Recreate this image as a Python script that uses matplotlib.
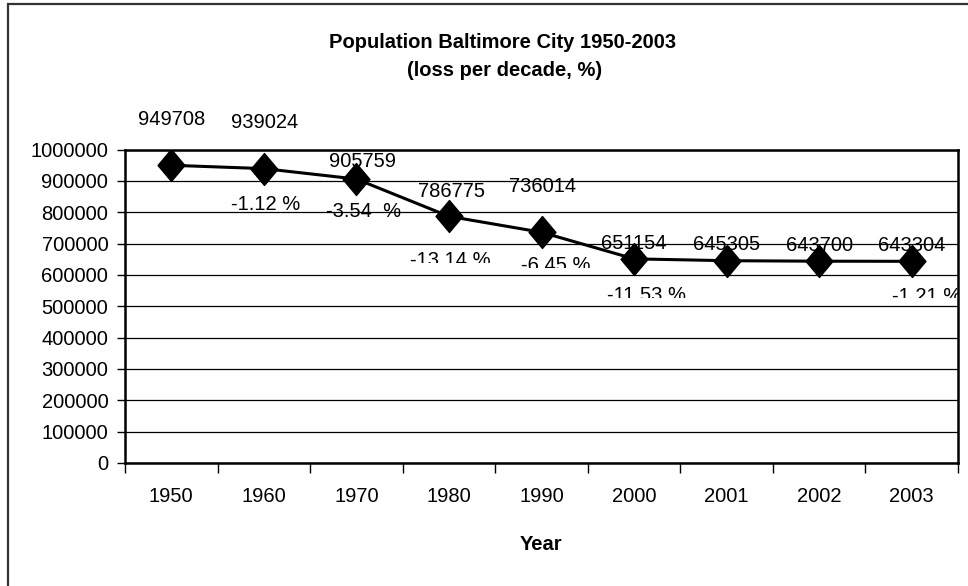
import matplotlib
matplotlib.use("Agg")
import matplotlib.pyplot as plt
from matplotlib import font_manager
from matplotlib.path import Path
from matplotlib.patches import Rectangle
from matplotlib.transforms import offset_copy

# data
years = ["1950", "1960", "1970", "1980", "1990", "2000", "2001", "2002", "2003"]
population = [949708, 939024, 905759, 786775, 736014, 651154, 645305, 643700, 643304]
loss_pct = [None, -1.12, -3.54, -13.14, -6.45, -11.53, None, None, -1.21]
y_ticks = list(range(0, 1000001, 100000))

# label placement (pixels, relative to the point) - tweaked by eye
val_dx = [0, 1, 6, 3, 1, 0, 0, 0, 0]
val_dy = [46, 46, 18, 25, 46, 15, 16, 16, 16]
pct_dx = [0, 2, 7, 1, 14, 12, 0, 0, 15]
pct_dy = [0, 36, 32, 44, 33, 37, 0, 0, 35]
pct_clip = [None, None, None, 47, 36, 39, None, None, 37]  # excel cut these off

names = {f.name for f in font_manager.fontManager.ttflist}
if "Liberation Sans Narrow" in names:
    FONT = "Liberation Sans Narrow"
    fs, fs_title = 16.5, 15.5
else:
    FONT = "Liberation Sans"
    fs, fs_title = 14.5, 14.5
plt.rcParams["font.family"] = [FONT, "DejaVu Sans"]

W, H = 968, 586
fig = plt.figure(figsize=(W / 100, H / 100), dpi=100)
fig.patch.set_facecolor("white")

# outer chart frame (only left/top visible in the crop)
fig.patches.append(Rectangle((8 / W, -0.1), 1.2, 1 - 4 / H + 0.1, transform=fig.transFigure,
                             fill=False, edgecolor="#333333", linewidth=1.6))

ax = fig.add_axes([125 / W, (H - 463) / H, 833 / W, 313.5 / H])
x = list(range(len(years)))

diamond = Path([(0, 1), (0.84, 0), (0, -1), (-0.84, 0), (0, 1)],
               [Path.MOVETO, Path.LINETO, Path.LINETO, Path.LINETO, Path.CLOSEPOLY])
ax.plot(x, population, color="black", linewidth=2.2, marker=diamond,
        markersize=23, markerfacecolor="black", markeredgecolor="black", zorder=3)

ax.set_xlim(-0.5, len(years) - 0.5)
ax.set_ylim(0, 1000000)
ax.set_yticks(y_ticks)
ax.set_yticklabels([str(v) for v in y_ticks])
ax.set_xticks(x)
ax.set_xticklabels(years)
ax.set_xticks([i - 0.5 for i in range(len(years) + 1)], minor=True)
ax.tick_params(axis="x", which="major", length=0, pad=17, labelsize=fs)
ax.tick_params(axis="x", which="minor", length=7, width=1, direction="out")
ax.tick_params(axis="y", length=6, width=1, pad=6, labelsize=fs)
ax.grid(axis="y", color="black", linewidth=0.9)
ax.set_axisbelow(True)
for s in ax.spines.values():
    s.set_linewidth(1.8)
    s.set_color("black")

for i, v in enumerate(population):
    ax.annotate(str(v), (i, v), xytext=(val_dx[i], val_dy[i]), textcoords="offset pixels",
                ha="center", va="center", fontsize=fs, zorder=4)
    p = loss_pct[i]
    if p is None:
        continue
    lab = f"{p:.2f}  %" if i == 2 else f"{p:.2f} %"
    t = ax.annotate(lab, (i, v), xytext=(pct_dx[i], -pct_dy[i]), textcoords="offset pixels",
                    ha="center", va="center", fontsize=fs, zorder=4)
    if pct_clip[i] is not None:
        tr = offset_copy(ax.transData, fig=fig, x=0, y=-pct_clip[i], units="dots")
        right = min(i + 0.7, len(years) - 0.5) - (i - 0.7)
        clip = Rectangle((i - 0.7, v), right, 2e6, transform=tr)
        t.set_clip_path(clip)

fig.text(503 / W, 1 - 43 / H, "Population Baltimore City 1950-2003", ha="center", va="center",
         fontsize=fs_title, fontweight="bold")
fig.text(505 / W, 1 - 71 / H, "(loss per decade, %)", ha="center", va="center",
         fontsize=fs_title, fontweight="bold")
fig.text(541 / W, 1 - 544 / H, "Year", ha="center", va="center",
         fontsize=fs_title, fontweight="bold")

fig.savefig("out.png", dpi=100)
